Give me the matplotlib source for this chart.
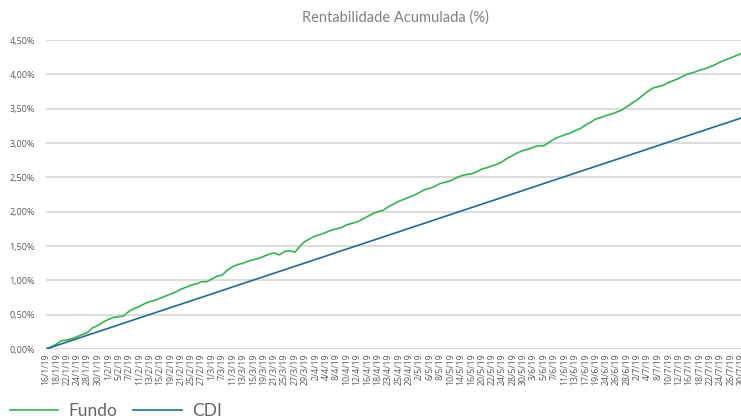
import numpy as np
import pandas as pd
import matplotlib
matplotlib.use("Agg")
import matplotlib.pyplot as plt
from matplotlib.ticker import FuncFormatter

# dias úteis (feriados: carnaval, sexta santa, 1/5, corpus christi)
holidays = ["2019-03-04", "2019-03-05", "2019-04-19", "2019-05-01", "2019-06-20"]
dates = pd.bdate_range("2019-01-16", "2019-07-30", freq="C", holidays=holidays)

fundo = [
    0.00, 0.03, 0.07, 0.12, 0.13, 0.15, 0.18, 0.21, 0.24, 0.31,
    0.34, 0.39, 0.43, 0.46, 0.47, 0.48, 0.55, 0.59, 0.62, 0.66,
    0.69, 0.71, 0.74, 0.77, 0.80, 0.83, 0.87, 0.90, 0.93, 0.95,
    0.98, 0.98, 1.02, 1.06, 1.08, 1.15, 1.20, 1.23, 1.25, 1.28,
    1.30, 1.32, 1.35, 1.38, 1.40, 1.37, 1.42, 1.43, 1.41, 1.50,
    1.57, 1.61, 1.65, 1.67, 1.70, 1.73, 1.75, 1.77, 1.81, 1.83,
    1.85, 1.89, 1.93, 1.97, 2.00, 2.02, 2.07, 2.11, 2.15, 2.18,
    2.21, 2.24, 2.28, 2.32, 2.34, 2.37, 2.41, 2.43, 2.45, 2.49,
    2.52, 2.54, 2.55, 2.58, 2.62, 2.64, 2.67, 2.69, 2.73, 2.78,
    2.82, 2.86, 2.89, 2.91, 2.94, 2.96, 2.96, 3.01, 3.06, 3.09,
    3.12, 3.14, 3.18, 3.21, 3.26, 3.30, 3.35, 3.37, 3.40, 3.42,
    3.45, 3.48, 3.53, 3.58, 3.63, 3.69, 3.75, 3.80, 3.82, 3.84,
    3.88, 3.91, 3.94, 3.98, 4.01, 4.03, 4.06, 4.08, 4.11, 4.14,
    4.18, 4.21, 4.24, 4.27, 4.30,
]

cdi = [
    0.000, 0.025, 0.050, 0.075, 0.100, 0.126, 0.151, 0.176, 0.201, 0.226,
    0.251, 0.276, 0.301, 0.326, 0.351, 0.377, 0.402, 0.427, 0.452, 0.477,
    0.502, 0.527, 0.552, 0.577, 0.602, 0.628, 0.653, 0.678, 0.703, 0.728,
    0.753, 0.778, 0.803, 0.828, 0.853, 0.879, 0.904, 0.929, 0.954, 0.979,
    1.004, 1.029, 1.054, 1.079, 1.104, 1.130, 1.155, 1.180, 1.205, 1.230,
    1.255, 1.280, 1.305, 1.330, 1.355, 1.381, 1.406, 1.431, 1.456, 1.481,
    1.506, 1.531, 1.556, 1.581, 1.606, 1.632, 1.657, 1.682, 1.707, 1.732,
    1.757, 1.782, 1.807, 1.832, 1.857, 1.883, 1.908, 1.933, 1.958, 1.983,
    2.008, 2.033, 2.058, 2.083, 2.108, 2.134, 2.159, 2.184, 2.209, 2.234,
    2.259, 2.284, 2.309, 2.334, 2.359, 2.385, 2.410, 2.435, 2.460, 2.485,
    2.510, 2.535, 2.560, 2.585, 2.610, 2.636, 2.661, 2.686, 2.711, 2.736,
    2.761, 2.786, 2.811, 2.836, 2.861, 2.887, 2.912, 2.937, 2.962, 2.987,
    3.012, 3.037, 3.062, 3.087, 3.112, 3.138, 3.163, 3.188, 3.213, 3.238,
    3.263, 3.288, 3.313, 3.338, 3.363,
]

GREEN = "#34b44f"
BLUE = "#1c6e8f"
GRID = "#d9d9d9"
TXT = "#595959"

W, H = 741, 419
fig = plt.figure(figsize=(W / 100, H / 100), dpi=100)
ax = fig.add_axes([46 / W, (H - 349) / H, (W - 46) / W, 309 / H])

x = np.arange(len(dates))
ax.plot(x, fundo, color=GREEN, lw=1.2, label="Fundo", zorder=3)
ax.plot(x, cdi, color=BLUE, lw=1.2, label="CDI", zorder=3)

ax.set_xlim(0, 133.1)
ax.set_ylim(0, 4.5)
ax.set_yticks(np.arange(0, 4.51, 0.5))
ax.yaxis.set_major_formatter(FuncFormatter(lambda v, p: f"{v:.2f}%".replace(".", ",")))
ax.grid(axis="y", color=GRID, lw=1.3)
ax.set_axisbelow(True)
for s in ax.spines.values():
    s.set_visible(False)
ax.axhline(0, color=GRID, lw=2, zorder=1)

ticks = x[::2]
ax.set_xticks(ticks)
ax.set_xticklabels([f"{d.day}/{d.month}/{d.year % 100}" for d in dates[::2]],
                   rotation=90, fontsize=6.3, color=TXT, fontfamily="Open Sans")
ax.tick_params(axis="x", length=0, pad=3)
ax.tick_params(axis="y", length=0, pad=8, labelsize=6.5, labelcolor=TXT)
for lab in ax.get_yticklabels():
    lab.set_fontfamily("Open Sans")

fig.text(395 / W, 1 - 18 / H, "Rentabilidade Acumulada (%)", ha="center", va="center",
         fontsize=10.5, color="#808080", fontfamily="Lato")

fig.legend(loc="lower left", bbox_to_anchor=(-0.008, -0.038), ncol=2, frameon=False,
           prop={"family": "Lato", "size": 12.5}, labelcolor="#666666",
           handlelength=2.8, handletextpad=0.6, columnspacing=0.9)

fig.savefig("out.png", dpi=100)
